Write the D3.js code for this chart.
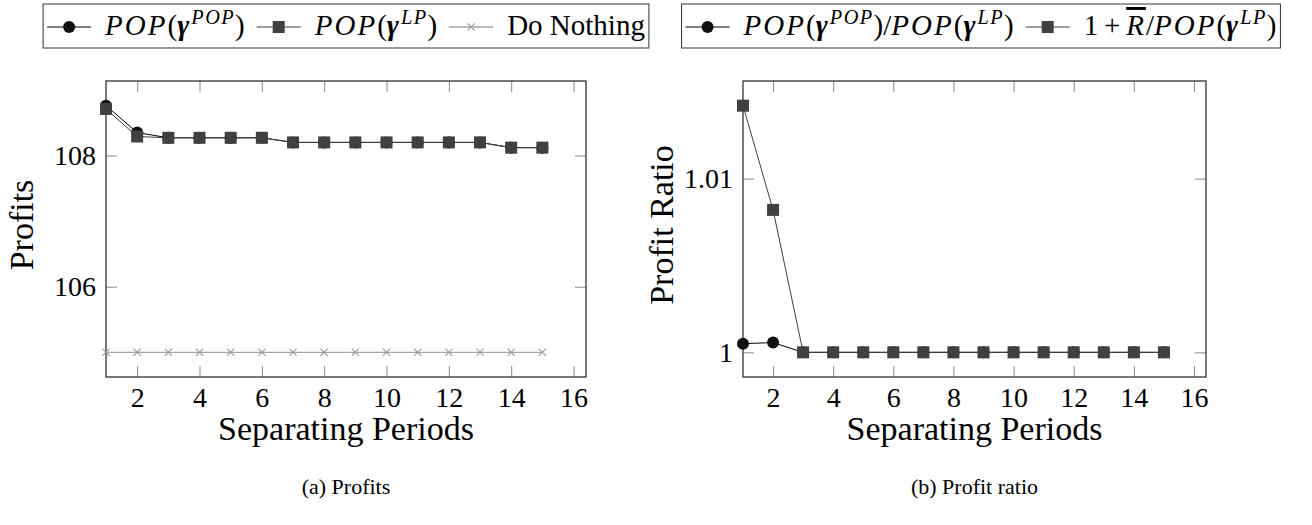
<!DOCTYPE html>
<html>
<head>
<meta charset="utf-8">
<script src="https://cdn.jsdelivr.net/npm/d3@7"></script>
<style>
  body { margin: 0; background: #fff; }
  svg { display: block; font-family: "Liberation Serif", "Times New Roman", "DejaVu Serif", serif; }
  text { font-family: "Liberation Serif", "Times New Roman", "DejaVu Serif", serif; fill: #000; }
</style>
</head>
<body>
<svg id="chart" width="1312" height="525"></svg>
<script>
// ---- data ----
const periods = [1, 2, 3, 4, 5, 6, 7, 8, 9, 10, 11, 12, 13, 14, 15]
const profitPop = [108.76, 108.35, 108.27, 108.27, 108.27, 108.27, 108.2, 108.2, 108.2, 108.2, 108.2, 108.2, 108.2, 108.12, 108.12]
const profitLp = [108.71, 108.29, 108.27, 108.27, 108.27, 108.27, 108.2, 108.2, 108.2, 108.2, 108.2, 108.2, 108.2, 108.12, 108.12]
const profitNothing = [105, 105, 105, 105, 105, 105, 105, 105, 105, 105, 105, 105, 105, 105, 105]
const ratioPop = [1.0005, 1.00056, 1, 1, 1, 1, 1, 1, 1, 1, 1, 1, 1, 1, 1]
const ratioBound = [1.0142, 1.0082, 1, 1, 1, 1, 1, 1, 1, 1, 1, 1, 1, 1, 1]

const xTicks = [2, 4, 6, 8, 10, 12, 14, 16]
const profitTicks = [106, 108]
const ratioTicks = [1, 1.01]
const xMax = 16.4

// legend labels as pieces: it = italic, b = bold, sup = superscript, over = overline
const popLabel = [{ t: 'POP', it: 1 }, { t: '(' }, { t: 'γ', it: 1, b: 1 }, { t: 'POP', it: 1, sup: 1 }, { t: ')' }]
const lpLabel = [{ t: 'POP', it: 1 }, { t: '(' }, { t: 'γ', it: 1, b: 1 }, { t: 'LP', it: 1, sup: 1 }, { t: ')' }]
const nothingLabel = [{ t: 'Do Nothing' }]
const ratioLabel = popLabel.concat([{ t: '/' }], lpLabel)
const boundLabel = [{ t: '1\u2009+\u2009' }, { t: 'R', it: 1, over: 1 }, { t: '/' }].concat(lpLabel)

const styles = {
  circle: { line: '#000', width: 1, fill: '#111' },
  square: { line: '#404040', width: 1, fill: '#404040' },
  cross: { line: '#a6a6a6', width: 1.3, fill: 'none' },
}

const svg = d3.select('#chart')
const SERIF = '"Liberation Serif", "Times New Roman", "DejaVu Serif", serif'
const TICK_FONT = 28
const LABEL_FONT = 34
const LEGEND_FONT = 29

function drawMarker(g, type, x, y) {
  const s = styles[type]
  if (type === 'circle') {
    g.append('circle').attr('cx', x).attr('cy', y).attr('r', 6).attr('fill', s.fill)
  } else if (type === 'square') {
    g.append('rect').attr('x', x - 6).attr('y', y - 6).attr('width', 12).attr('height', 12).attr('fill', s.fill)
  } else {
    g.append('path')
      .attr('d', `M${x - 3.6},${y - 3.6}L${x + 3.6},${y + 3.6}M${x - 3.6},${y + 3.6}L${x + 3.6},${y - 3.6}`)
      .attr('stroke', '#999').attr('stroke-width', 1.1)
  }
}

// write math-ish label pieces as tspans
function appendPieces(text, pieces, size) {
  const shift = size * 0.38
  let raised = false
  pieces.forEach(p => {
    const ts = text.append('tspan').text(p.t)
    const fs = p.sup ? size * 0.7 : size
    if (p.it) ts.style('font-style', 'italic').style('letter-spacing', (fs * 0.07) + 'px')
    if (p.b) ts.style('font-weight', 'bold')
    if (p.over) ts.style('text-decoration', 'overline')
    if (p.sup) ts.style('font-size', fs + 'px')
    if (p.sup && !raised) {
      ts.attr('dy', -shift)
      raised = true
    } else if (!p.sup && raised) {
      ts.attr('dy', shift)
      raised = false
    }
  })
}

function drawLegend(entries, cx) {
  const top = 4, h = 44, pad = 4, sample = 44, gapText = 14, gapItem = 12
  const g = svg.append('g')
  const items = g.append('g')
  let x = 0
  entries.forEach(e => {
    const item = items.append('g').attr('transform', `translate(${x},0)`)
    const s = styles[e.marker]
    item.append('line')
      .attr('x1', 0).attr('x2', sample)
      .attr('y1', top + 23).attr('y2', top + 23)
      .attr('stroke', s.line).attr('stroke-width', s.width)
    drawMarker(item, e.marker, sample / 2, top + 23)
    const txt = item.append('text')
      .attr('x', sample + gapText).attr('y', top + 31)
      .style('font-family', SERIF)
      .style('font-size', LEGEND_FONT + 'px')
    appendPieces(txt, e.label, LEGEND_FONT)
    x += sample + gapText + txt.node().getComputedTextLength() + gapItem
  })
  const inner = x - gapItem
  const boxW = inner + pad * 2
  const left = cx - boxW / 2
  g.insert('rect', ':first-child')
    .attr('x', left).attr('y', top).attr('width', boxW).attr('height', h)
    .attr('fill', '#fff').attr('stroke', '#333').attr('stroke-width', 1)
  items.attr('transform', `translate(${left + pad},0)`)
}

function drawPanel(opt) {
  const { left, right, top, bottom } = opt
  const allY = opt.series.flatMap(s => s.values)
  const [lo, hi] = d3.extent(allY)
  const padY = (hi - lo) * 0.1

  const x = d3.scaleLinear().domain([1, xMax]).range([left, right])
  const y = d3.scaleLinear().domain([lo - padY, hi + padY]).range([bottom, top])
  const fmt = d3.format('~g')

  const g = svg.append('g')

  // inward ticks on all four sides
  const axes = [
    { ax: d3.axisBottom(x).tickValues(xTicks).tickFormat(fmt).tickPadding(10), t: `translate(0,${bottom})` },
    { ax: d3.axisTop(x).tickValues(xTicks).tickFormat(''), t: `translate(0,${top})` },
    { ax: d3.axisLeft(y).tickValues(opt.yTicks).tickFormat(fmt).tickPadding(10), t: `translate(${left},0)` },
    { ax: d3.axisRight(y).tickValues(opt.yTicks).tickFormat(''), t: `translate(${right},0)` },
  ]
  axes.forEach(a => {
    const ag = g.append('g').attr('transform', a.t)
      .call(a.ax.tickSizeInner(-11).tickSizeOuter(0))
    ag.select('.domain').remove()
    ag.selectAll('.tick line').attr('stroke', '#8a8a8a')
    ag.attr('font-family', SERIF).attr('font-size', TICK_FONT)
    ag.selectAll('.tick text')
      .style('font-family', SERIF)
      .style('font-size', TICK_FONT + 'px')
      .attr('fill', '#000')
  })

  // frame
  g.append('rect')
    .attr('x', left).attr('y', top)
    .attr('width', right - left).attr('height', bottom - top)
    .attr('fill', 'none').attr('stroke', '#222').attr('stroke-width', 1.2)

  // series lines then markers
  const line = d3.line().x(d => x(d[0])).y(d => y(d[1]))
  opt.series.forEach(s => {
    const st = styles[s.marker]
    const pts = periods.map((p, i) => [p, s.values[i]])
    const sg = g.append('g').attr('class', 'series')
    sg.append('path')
      .datum(pts)
      .attr('d', line)
      .attr('fill', 'none')
      .attr('stroke', st.line)
      .attr('stroke-width', st.width)
    pts.forEach(d => drawMarker(sg, s.marker, x(d[0]), y(d[1])))
  })

  // axis labels
  g.append('text')
    .attr('x', (left + right) / 2).attr('y', 440)
    .attr('text-anchor', 'middle')
    .style('font-family', SERIF)
    .style('font-size', LABEL_FONT + 'px')
    .text('Separating Periods')
  g.append('text')
    .attr('transform', `translate(${opt.yLabelX},${(top + bottom) / 2 - 4}) rotate(-90)`)
    .attr('text-anchor', 'middle')
    .style('font-family', SERIF)
    .style('font-size', LABEL_FONT + 'px')
    .text(opt.yLabel)

  // caption
  g.append('text')
    .attr('x', (left + right) / 2).attr('y', 494)
    .attr('text-anchor', 'middle')
    .style('font-family', SERIF)
    .style('font-size', '22px')
    .text(opt.caption)

  drawLegend(opt.legend, opt.legendCenter)
}

drawPanel({
  left: 106, right: 586, top: 81, bottom: 377,
  series: [
    { values: profitNothing, marker: 'cross' },
    { values: profitPop, marker: 'circle' },
    { values: profitLp, marker: 'square' },
  ],
  yTicks: profitTicks,
  yLabel: 'Profits',
  yLabelX: 33,
  caption: '(a) Profits',
  legendCenter: 346,
  legend: [
    { marker: 'circle', label: popLabel },
    { marker: 'square', label: lpLabel },
    { marker: 'cross', label: nothingLabel },
  ],
})

drawPanel({
  left: 743, right: 1206, top: 81, bottom: 377,
  series: [
    { values: ratioPop, marker: 'circle' },
    { values: ratioBound, marker: 'square' },
  ],
  yTicks: ratioTicks,
  yLabel: 'Profit Ratio',
  yLabelX: 673,
  caption: '(b) Profit ratio',
  legendCenter: 981,
  legend: [
    { marker: 'circle', label: ratioLabel },
    { marker: 'square', label: boundLabel },
  ],
})
</script>
</body>
</html>
